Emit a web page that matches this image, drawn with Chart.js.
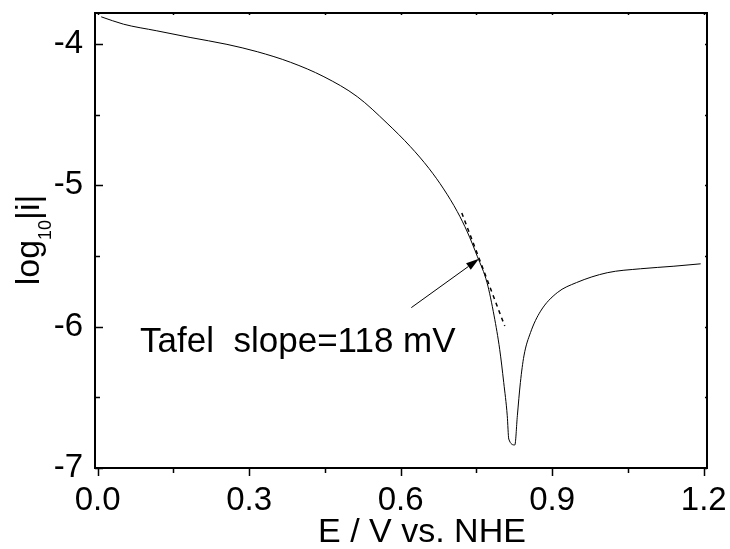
<!DOCTYPE html>
<html>
<head>
<meta charset="utf-8">
<script src="https://cdn.jsdelivr.net/npm/chart.js@4"></script>
<style>
  body { margin: 0; background: #fff; }
  #wrap { width: 730px; height: 549px; }
</style>
</head>
<body>
<div id="wrap"><canvas id="tafelChart" width="730" height="549"></canvas></div>
<script>
// potential (V vs NHE) and log10|i|
var potential = [0.007, 0.051, 0.117, 0.183, 0.256, 0.316, 0.382, 0.448, 0.514, 0.573,
    0.619, 0.656, 0.685, 0.712, 0.732, 0.752, 0.771, 0.785, 0.796, 0.804,
    0.811, 0.814, 0.826, 0.831, 0.837, 0.844, 0.857, 0.877, 0.910, 0.948,
    1.009, 1.075, 1.141, 1.194];
var logCurrent = [-3.807, -3.859, -3.906, -3.953, -4.002, -4.054, -4.129, -4.231, -4.372, -4.560,
    -4.725, -4.880, -5.025, -5.185, -5.330, -5.505, -5.689, -5.924, -6.160, -6.395,
    -6.630, -6.795, -6.837, -6.630, -6.395, -6.207, -6.042, -5.890, -5.759, -5.688,
    -5.618, -5.590, -5.572, -5.555];

// tafel fit line (dashed)
var tangentX = [0.721, 0.806];
var tangentY = [-5.195, -5.995];

// arrow: tail then tip
var arrowX = [0.621, 0.755];
var arrowY = [-5.865, -5.52];

var xTicks = [0.0, 0.3, 0.6, 0.9, 1.2];
var xTickLabels = ["0.0", "0.3", "0.6", "0.9", "1.2"];
var xMinor = [0.15, 0.45, 0.75, 1.05];
var yTicks = [-7, -6, -5, -4];
var yTickLabels = ["-7", "-6", "-5", "-4"];
var yMinor = [-6.5, -5.5, -4.5];

var annText = "Tafel  slope=118 mV";
var annX = 0.084, annY = -6.178;

var FONT = "'Liberation Sans', Arial, sans-serif";

function toPoints(xs, ys) {
    var pts = [];
    for (var i = 0; i < xs.length; i++) {
        pts.push({ x: xs[i], y: ys[i] });
    }
    return pts;
}

//frame, ticks, arrow and texts
var decorPlugin = {
    id: "decor",
    afterDatasetsDraw: function (chart) {
        var ctx = chart.ctx;
        var a = chart.chartArea;
        var xs = chart.scales.x, ys = chart.scales.y;
        ctx.save();
        ctx.strokeStyle = "#000";
        ctx.fillStyle = "#000";

        // box
        ctx.lineWidth = 2;
        ctx.strokeRect(a.left, a.top, a.right - a.left, a.bottom - a.top);

        // x ticks, pointing out of the bottom, tiny ones on top
        ctx.lineWidth = 1.5;
        ctx.beginPath();
        xTicks.forEach(function (v) {
            var px = Math.round(xs.getPixelForValue(v)) + 0.5;
            ctx.moveTo(px, a.bottom); ctx.lineTo(px, a.bottom + 8);
            ctx.moveTo(px, a.top); ctx.lineTo(px, a.top + 2);
        });
        xMinor.forEach(function (v) {
            var px = Math.round(xs.getPixelForValue(v)) + 0.5;
            ctx.moveTo(px, a.bottom); ctx.lineTo(px, a.bottom + 5);
            ctx.moveTo(px, a.top); ctx.lineTo(px, a.top + 2);
        });
        // y ticks, pointing in on the left, tiny on the right
        yTicks.forEach(function (v) {
            var py = Math.round(ys.getPixelForValue(v)) + 0.5;
            ctx.moveTo(a.left, py); ctx.lineTo(a.left + 8, py);
            ctx.moveTo(a.right, py); ctx.lineTo(a.right - 2, py);
        });
        yMinor.forEach(function (v) {
            var py = Math.round(ys.getPixelForValue(v)) + 0.5;
            ctx.moveTo(a.left, py); ctx.lineTo(a.left + 5, py);
            ctx.moveTo(a.right, py); ctx.lineTo(a.right - 2, py);
        });
        ctx.stroke();

        // arrow
        var x0 = xs.getPixelForValue(arrowX[0]), y0 = ys.getPixelForValue(arrowY[0]);
        var x1 = xs.getPixelForValue(arrowX[1]), y1 = ys.getPixelForValue(arrowY[1]);
        var ang = Math.atan2(y1 - y0, x1 - x0);
        var hl = 13, hw = 4;
        ctx.lineWidth = 1;
        ctx.beginPath();
        ctx.moveTo(x0, y0);
        ctx.lineTo(x1 - hl * Math.cos(ang), y1 - hl * Math.sin(ang));
        ctx.stroke();
        ctx.beginPath();
        ctx.moveTo(x1, y1);
        ctx.lineTo(x1 - hl * Math.cos(ang) + hw * Math.sin(ang), y1 - hl * Math.sin(ang) - hw * Math.cos(ang));
        ctx.lineTo(x1 - hl * Math.cos(ang) - hw * Math.sin(ang), y1 - hl * Math.sin(ang) + hw * Math.cos(ang));
        ctx.closePath();
        ctx.fill();

        // annotation
        ctx.font = "35px " + FONT;
        ctx.textAlign = "left";
        ctx.textBaseline = "alphabetic";
        ctx.fillText(annText, xs.getPixelForValue(annX), ys.getPixelForValue(annY));

        // x title
        ctx.font = "34px " + FONT;
        ctx.textAlign = "center";
        ctx.fillText("E / V vs. NHE", 422, 542);

        // y title, rotated, with subscript
        ctx.translate(39, 240);
        ctx.rotate(-Math.PI / 2);
        ctx.textAlign = "left";
        ctx.font = "34px " + FONT;
        var w1 = ctx.measureText("log").width;
        ctx.font = "18px " + FONT;
        var w2 = ctx.measureText("10").width;
        ctx.font = "34px " + FONT;
        var w3 = ctx.measureText("|i|").width;
        var sx = -(w1 + w2 + w3) / 2;
        ctx.fillText("log", sx, 0);
        ctx.font = "18px " + FONT;
        ctx.fillText("10", sx + w1, 12);
        ctx.font = "34px " + FONT;
        ctx.fillText("|i|", sx + w1 + w2, 0);

        ctx.restore();
    }
};

function noPad(s) {
    s.paddingTop = 0;
    s.paddingBottom = 0;
    s.paddingLeft = 0;
    s.paddingRight = 0;
}

var chart = new Chart(document.getElementById("tafelChart").getContext("2d"), {
    type: "scatter",
    data: {
        datasets: [
            {
                label: "polarisation",
                data: toPoints(potential, logCurrent),
                showLine: true,
                borderColor: "#000",
                borderWidth: 1,
                pointRadius: 0,
                cubicInterpolationMode: "monotone"
            },
            {
                label: "tafel fit",
                data: toPoints(tangentX, tangentY),
                showLine: true,
                borderColor: "#000",
                borderWidth: 1.5,
                borderDash: [4, 4],
                pointRadius: 0
            }
        ]
    },
    options: {
        responsive: false,
        animation: false,
        layout: { padding: { left: 0, top: 13, right: 23, bottom: 0 } },
        plugins: {
            legend: { display: false },
            tooltip: { enabled: false }
        },
        scales: {
            x: {
                type: "linear",
                min: -0.0053,
                max: 1.2065,
                grid: { display: false, drawTicks: false },
                border: { display: false },
                afterBuildTicks: function (s) {
                    s.ticks = xTicks.map(function (v) { return { value: v }; });
                },
                afterFit: function (s) { s.height = 81; noPad(s); },
                ticks: {
                    padding: 13,
                    color: "#000",
                    maxRotation: 0,
                    autoSkip: false,
                    font: { family: FONT, size: 33 },
                    callback: function (v, i) { return xTickLabels[i]; }
                }
            },
            y: {
                type: "linear",
                min: -7,
                max: -3.78,
                grid: { display: false, drawTicks: false },
                border: { display: false },
                afterBuildTicks: function (s) {
                    s.ticks = yTicks.map(function (v) { return { value: v }; });
                },
                afterFit: function (s) { s.width = 95; noPad(s); },
                ticks: {
                    padding: 12,
                    color: "#000",
                    autoSkip: false,
                    font: { family: FONT, size: 33 },
                    callback: function (v, i) { return yTickLabels[i]; }
                }
            }
        }
    },
    plugins: [decorPlugin]
});
</script>
</body>
</html>
